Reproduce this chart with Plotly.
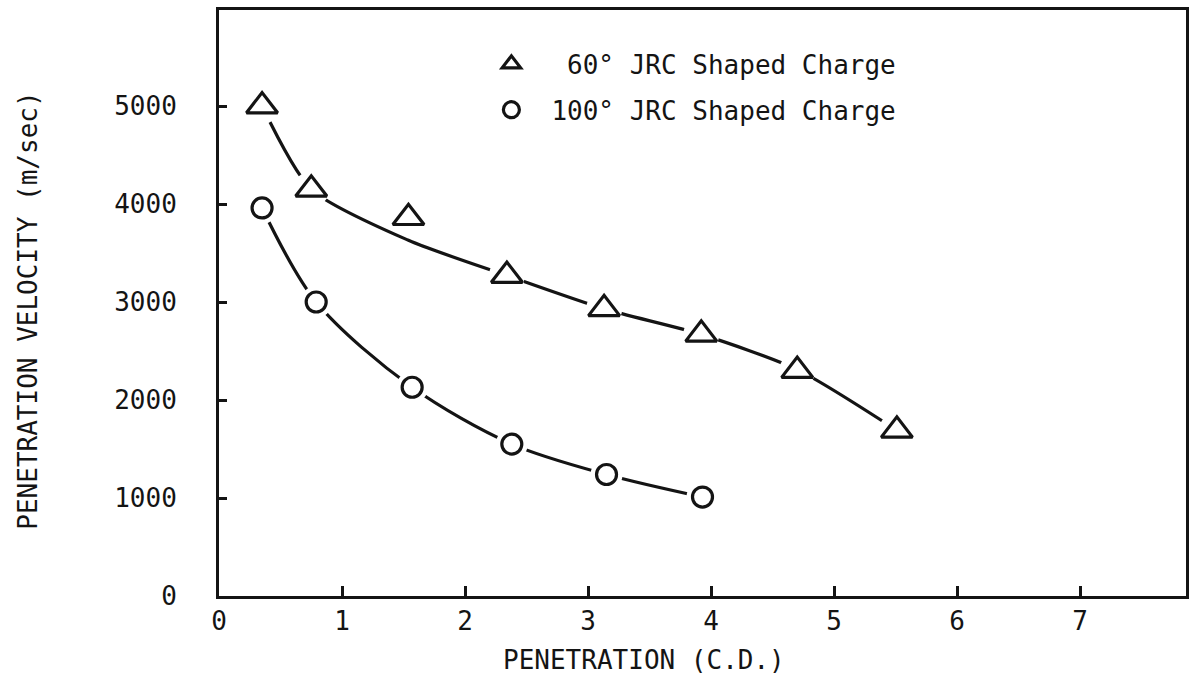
import plotly.graph_objects as go

# ---- data ----
x_60 = [0.35, 0.75, 1.54, 2.34, 3.13, 3.92, 4.70, 5.51]
v_60 = [5000, 4150, 3860, 3270, 2930, 2670, 2300, 1690]

x_100 = [0.35, 0.79, 1.57, 2.38, 3.15, 3.93]
v_100 = [3960, 3000, 2130, 1550, 1240, 1010]

# hand-drawn fitted curves
fit60_x = [0.35, 0.75, 1.54, 2.34, 3.13, 3.92, 4.70, 5.51]
fit60_y = [5000, 4150, 3630, 3270, 2930, 2670, 2310, 1690]
fit100_x = [0.35, 0.79, 1.57, 2.38, 3.15, 3.93]
fit100_y = [3960, 3000, 2130, 1550, 1240, 1010]

x_ticks = [0, 1, 2, 3, 4, 5, 6, 7]
y_ticks = [0, 1000, 2000, 3000, 4000, 5000]

name_60 = "\u200760\u00b0 JRC Shaped Charge"
name_100 = "100\u00b0 JRC Shaped Charge"

FONT = "DejaVu Sans Mono, Liberation Mono, monospace"
INK = "#141414"
FS = 26

fig = go.Figure()

# curves
fig.add_trace(go.Scatter(x=fit60_x, y=fit60_y, mode="lines",
                         line=dict(color=INK, width=3.2, shape="spline", smoothing=0.7),
                         showlegend=False, hoverinfo="skip"))
fig.add_trace(go.Scatter(x=fit100_x, y=fit100_y, mode="lines",
                         line=dict(color=INK, width=3.2, shape="spline", smoothing=0.9),
                         showlegend=False, hoverinfo="skip"))

# white halos to break the curve around the markers
fig.add_trace(go.Scatter(x=x_60, y=v_60, mode="markers",
                         marker=dict(symbol="circle", size=36, color="white", line=dict(width=0)),
                         showlegend=False, hoverinfo="skip"))
fig.add_trace(go.Scatter(x=x_100, y=v_100, mode="markers",
                         marker=dict(symbol="circle", size=32, color="white", line=dict(width=0)),
                         showlegend=False, hoverinfo="skip"))

# markers
fig.add_trace(go.Scatter(x=x_60, y=v_60, mode="markers", name=name_60, legendgroup="a",
                         marker=dict(symbol="triangle-up-open", size=27, color=INK,
                                     line=dict(width=3.2, color=INK))))
fig.add_trace(go.Scatter(x=x_100, y=v_100, mode="markers", name=name_100, legendgroup="b",
                         marker=dict(symbol="circle-open", size=20, color=INK,
                                     line=dict(width=3.2, color=INK))))

fig.update_layout(
    width=1193, height=691,
    margin=dict(l=219, r=4, t=10, b=95),
    paper_bgcolor="white", plot_bgcolor="white",
    font=dict(family=FONT, size=FS, color=INK),
    showlegend=True,
    legend=dict(x=0.261, y=0.948, xanchor="left", yanchor="top",
                bgcolor="rgba(0,0,0,0)", borderwidth=0,
                font=dict(family=FONT, size=FS, color=INK),
                traceorder="grouped", tracegroupgap=9, itemwidth=70),
)

fig.update_xaxes(range=[0, 7.86], tickmode="array", tickvals=x_ticks,
                 ticktext=[str(t) for t in x_ticks],
                 ticks="inside", ticklen=10, tickwidth=3, tickcolor=INK,
                 showline=True, linecolor=INK, linewidth=3, mirror=True,
                 showgrid=False, zeroline=False, ticklabelstandoff=0,
                 tickfont=dict(family=FONT, size=FS, color=INK))
fig.update_yaxes(range=[0, 5980], tickmode="array", tickvals=y_ticks,
                 ticktext=[str(t) for t in y_ticks],
                 ticks="inside", ticklen=8, tickwidth=2.5, tickcolor=INK,
                 showline=True, linecolor=INK, linewidth=3, mirror=True,
                 showgrid=False, zeroline=False, ticklabelstandoff=34,
                 tickfont=dict(family=FONT, size=FS, color=INK))

fig.add_annotation(text="PENETRATION (C.D.)", xref="paper", yref="paper",
                   x=0.439, y=-0.109, showarrow=False, xanchor="center", yanchor="middle",
                   font=dict(family=FONT, size=FS, color=INK))
fig.add_annotation(text="PENETRATION VELOCITY (m/sec)", xref="paper", yref="paper",
                   x=-0.197, y=0.486, showarrow=False, textangle=-90,
                   xanchor="center", yanchor="middle",
                   font=dict(family=FONT, size=FS, color=INK))

fig.write_html("out.html", config={"displayModeBar": False},
               post_script="document.body.style.margin='0';document.body.style.overflow='hidden';")
